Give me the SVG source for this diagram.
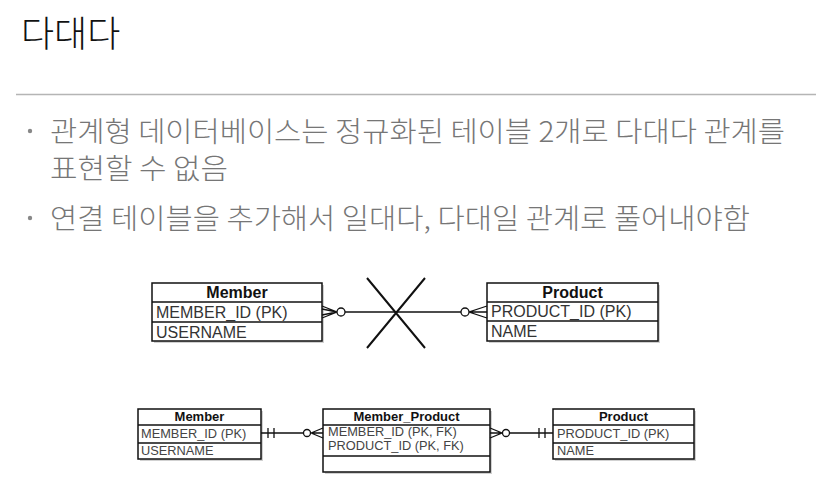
<svg xmlns="http://www.w3.org/2000/svg" width="816" height="494" viewBox="0 0 816 494">
<style>
.title{font-family:"Noto Sans CJK KR","Noto Sans",sans-serif;font-size:36px;font-weight:300;fill:#111}
.body{font-family:"Noto Sans CJK KR","Noto Sans",sans-serif;font-size:28px;font-weight:300;fill:#767676}
.box{fill:#fff;stroke:#111;stroke-width:1.5}
.shadow{fill:#999;opacity:0.45}
.div{stroke:#111;stroke-width:1.3}
.h1{font-family:"Liberation Sans",Arial,sans-serif;font-weight:bold;font-size:16px;fill:#111;text-anchor:middle}
.r1{font-family:"Liberation Sans",Arial,sans-serif;font-size:16px;fill:#333}
.h2{font-family:"Liberation Sans",Arial,sans-serif;font-weight:bold;font-size:13px;fill:#111;text-anchor:middle}
.r2{font-family:"Liberation Sans",Arial,sans-serif;font-size:12.8px;fill:#444}
.ln{stroke:#111;stroke-width:1.3;fill:none}
.circ{stroke:#111;stroke-width:1.3;fill:#fff}
</style>
<rect width="816" height="494" fill="#fff"/>
<text class="title" x="21" y="47">다대다</text>
<line x1="16" y1="94.5" x2="816" y2="94.5" stroke="#b5b5b5" stroke-width="1.5"/>
<circle cx="30" cy="131" r="2.2" fill="#888"/>
<text class="body" x="50" y="142" textLength="735" lengthAdjust="spacingAndGlyphs">관계형 데이터베이스는 정규화된 테이블 2개로 다대다 관계를</text>
<text class="body" x="50" y="179" textLength="178" lengthAdjust="spacingAndGlyphs">표현할 수 없음</text>
<circle cx="30" cy="218" r="2.2" fill="#888"/>
<text class="body" x="50" y="229" textLength="700" lengthAdjust="spacingAndGlyphs">연결 테이블을 추가해서 일대다, 다대일 관계로 풀어내야함</text>

<g id="member-top">
<rect class="shadow" x="154" y="285" width="170" height="58"/>
<rect class="box" x="152" y="283" width="170" height="58"/>
<line class="div" x1="152" y1="302" x2="322" y2="302"/>
<line class="div" x1="152" y1="322" x2="322" y2="322"/>
<text class="h1" x="237" y="298">Member</text>
<text class="r1" x="156" y="318">MEMBER_ID (PK)</text>
<text class="r1" x="156" y="338">USERNAME</text>
</g>
<g id="product-top">
<rect class="shadow" x="489" y="285" width="171" height="58"/>
<rect class="box" x="487" y="283" width="171" height="58"/>
<line class="div" x1="487" y1="302" x2="658" y2="302"/>
<line class="div" x1="487" y1="321" x2="658" y2="321"/>
<text class="h1" x="572.5" y="298">Product</text>
<text class="r1" x="491" y="317">PRODUCT_ID (PK)</text>
<text class="r1" x="491" y="337">NAME</text>
</g>
<g id="member-bottom">
<rect class="shadow" x="140" y="411" width="123" height="50"/>
<rect class="box" x="138" y="409" width="123" height="50"/>
<line class="div" x1="138" y1="425" x2="261" y2="425"/>
<line class="div" x1="138" y1="443" x2="261" y2="443"/>
<text class="h2" x="199.5" y="421">Member</text>
<text class="r2" x="141" y="438">MEMBER_ID (PK)</text>
<text class="r2" x="141" y="455">USERNAME</text>
</g>
<g id="member-product">
<rect class="shadow" x="325" y="411" width="167" height="63"/>
<rect class="box" x="323" y="409" width="167" height="63"/>
<line class="div" x1="323" y1="425" x2="490" y2="425"/>
<line class="div" x1="323" y1="456" x2="490" y2="456"/>
<text class="h2" x="406.5" y="421">Member_Product</text>
<text class="r2" x="328" y="436">MEMBER_ID (PK, FK)</text>
<text class="r2" x="328" y="450">PRODUCT_ID (PK, FK)</text>
</g>
<g id="product-bottom">
<rect class="shadow" x="555" y="411" width="141" height="50"/>
<rect class="box" x="553" y="409" width="141" height="50"/>
<line class="div" x1="553" y1="425" x2="694" y2="425"/>
<line class="div" x1="553" y1="443" x2="694" y2="443"/>
<text class="h2" x="623.5" y="421">Product</text>
<text class="r2" x="557" y="438">PRODUCT_ID (PK)</text>
<text class="r2" x="557" y="455">NAME</text>
</g>

<g id="connectors">
<path class="ln" d="M345 312 H461"/>
<path class="ln" d="M322 306 L337 312 L322 318 M322 309 L337 312 L322 315"/>
<circle class="circ" cx="341" cy="312" r="4"/>
<path class="ln" d="M487 306 L469 312 L487 318 M487 312 H469"/>
<circle class="circ" cx="465" cy="312" r="4"/>
<path d="M367 278 L425 348 M425 278 L367 348" stroke="#111" stroke-width="2" fill="none"/>

<path class="ln" d="M261 433 H303.5 M268 428 V438 M274 428 V438 M311 433 L323 428 M311 433 H323 M311 433 L323 438"/>
<circle class="circ" cx="307" cy="433" r="3.5"/>
<path class="ln" d="M509.5 433 H553 M539 428 V438 M545 428 V438 M490 428 L502 433 L490 438 M490 433 H502"/>
<circle class="circ" cx="506" cy="433" r="3.5"/>
</g>
</svg>
